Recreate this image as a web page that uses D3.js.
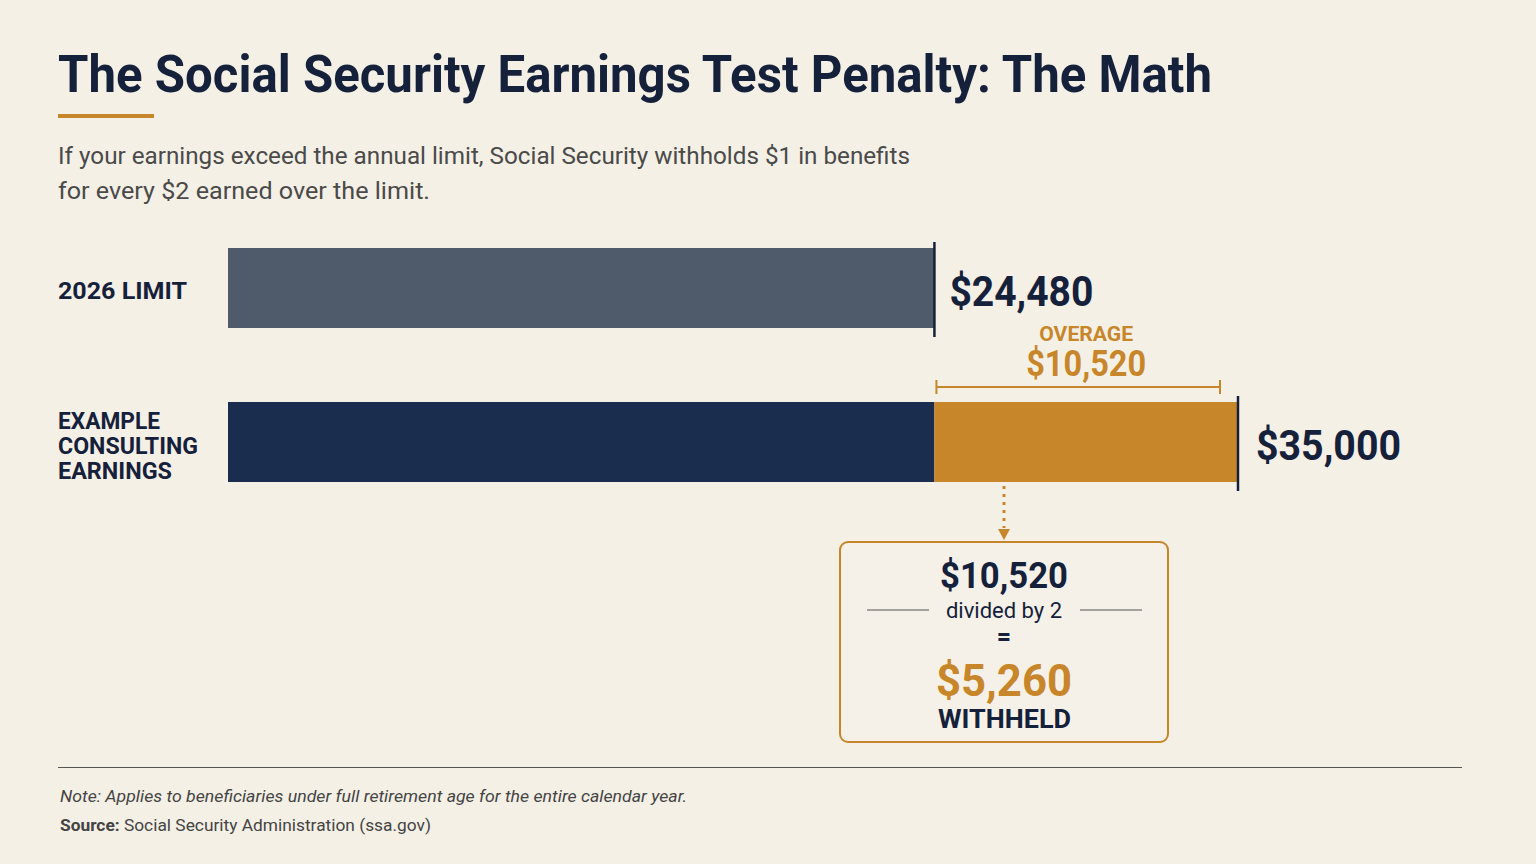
<!DOCTYPE html>
<html>
<head>
<meta charset="utf-8">
<script src="https://cdn.jsdelivr.net/npm/d3@7"></script>
<style>
  html, body { margin: 0; padding: 0; background: #f5f0e6; }
  svg { display: block; font-family: Roboto, "Noto Sans", sans-serif; }
</style>
</head>
<body>
<svg width="1536" height="864"></svg>
<script>
// data
var rows = ["2026 LIMIT", "EXAMPLE CONSULTING EARNINGS"];
var limit = [24480];
var earnings = [35000];
var overage = earnings[0] - limit[0];
var withheld = overage / 2;

var navy = "#15213a", gold = "#c8862a";

var svg = d3.select("svg"),
    width = +svg.attr("width"),
    height = +svg.attr("height");

svg.append("rect").attr("width", width).attr("height", height).attr("fill", "#f5f0e6");

var fmt = d3.format("$,");

// set text to a given width
function fit(sel, w) {
    sel.attr("textLength", w).attr("lengthAdjust", "spacingAndGlyphs");
    return sel;
}

// title
fit(svg.append("text").attr("x", 58).attr("y", 92)
    .attr("font-size", 52).attr("font-weight", 700).attr("fill", navy)
    .text("The Social Security Earnings Test Penalty: The Math"), 1154);

svg.append("rect").attr("x", 58).attr("y", 114).attr("width", 96).attr("height", 4).attr("fill", gold);

var sub = ["If your earnings exceed the annual limit, Social Security withholds $1 in benefits",
           "for every $2 earned over the limit."];
var subW = [852, 372];
svg.selectAll(".sub").data(sub).enter().append("text")
    .attr("x", 58).attr("y", function(d, i) { return 164 + i * 35; })
    .attr("font-size", 23).attr("fill", "#4a4a4a")
    .text(function(d) { return d; })
    .each(function(d, i) { fit(d3.select(this), subW[i]); });

// scales
var x = d3.scaleLinear().domain([0, earnings[0]]).range([228, 1238]);
var bh = 80;
var y0 = 248, y1 = 402;

// row labels
fit(svg.append("text").attr("x", 58).attr("y", y0 + bh / 2 + 11)
    .attr("font-size", 24).attr("font-weight", 700).attr("fill", navy).text(rows[0]), 129);
var lab2 = ["EXAMPLE", "CONSULTING", "EARNINGS"];
var lab2W = [102, 140, 114];
svg.selectAll(".lab2").data(lab2).enter().append("text")
    .attr("x", 58).attr("y", function(d, i) { return y1 + 27 + i * 25; })
    .attr("font-size", 23).attr("font-weight", 700).attr("fill", navy)
    .text(function(d) { return d; })
    .each(function(d, i) { fit(d3.select(this), lab2W[i]); });

// limit bar
svg.append("rect").attr("x", x(0)).attr("y", y0).attr("width", x(limit[0]) - x(0)).attr("height", bh)
    .attr("fill", "#4f5b6b");
svg.append("line").attr("x1", x(limit[0])).attr("x2", x(limit[0])).attr("y1", y0 - 6).attr("y2", y0 + bh + 9)
    .attr("stroke", navy).attr("stroke-width", 2.5);
fit(svg.append("text").attr("x", x(limit[0]) + 15).attr("y", y0 + 58)
    .attr("font-size", 42).attr("font-weight", 700).attr("fill", navy).text(fmt(limit[0])), 144);

// earnings bar: part under limit + overage
svg.append("rect").attr("x", x(0)).attr("y", y1).attr("width", x(limit[0]) - x(0)).attr("height", bh)
    .attr("fill", "#1b2d4e");
svg.append("rect").attr("x", x(limit[0])).attr("y", y1).attr("width", x(earnings[0]) - x(limit[0])).attr("height", bh)
    .attr("fill", gold);
svg.append("line").attr("x1", x(earnings[0])).attr("x2", x(earnings[0])).attr("y1", y1 - 6).attr("y2", y1 + bh + 9)
    .attr("stroke", navy).attr("stroke-width", 2.5);
fit(svg.append("text").attr("x", x(earnings[0]) + 18).attr("y", y1 + 58)
    .attr("font-size", 42).attr("font-weight", 700).attr("fill", navy).text(fmt(earnings[0])), 145);

// overage bracket
var bx0 = x(limit[0]) + 2, bx1 = x(earnings[0]) - 18, by = 387;
var bmid = (x(limit[0]) + x(earnings[0])) / 2;
svg.append("path")
    .attr("d", "M" + bx0 + "," + (by - 7) + "V" + (by + 7) + "M" + bx0 + "," + by + "H" + bx1 + "M" + bx1 + "," + (by - 7) + "V" + (by + 7))
    .attr("fill", "none").attr("stroke", gold).attr("stroke-width", 2);
fit(svg.append("text").attr("x", bmid - 47).attr("y", 341)
    .attr("font-size", 21).attr("font-weight", 700).attr("fill", gold).text("OVERAGE"), 94);
fit(svg.append("text").attr("x", bmid - 60).attr("y", 376)
    .attr("font-size", 36).attr("font-weight", 700).attr("fill", gold).text(fmt(overage)), 120);

// dotted arrow to box
var ax = 1004;
svg.append("line").attr("x1", ax).attr("x2", ax).attr("y1", y1 + bh + 4).attr("y2", 528)
    .attr("stroke", gold).attr("stroke-width", 3).attr("stroke-dasharray", "3,5");
svg.append("path").attr("d", "M" + (ax - 6) + ",529L" + (ax + 6) + ",529L" + ax + ",540Z").attr("fill", gold);

// math box
svg.append("rect").attr("x", 840).attr("y", 542).attr("width", 328).attr("height", 200).attr("rx", 8)
    .attr("fill", "#f6f1e8").attr("stroke", gold).attr("stroke-width", 2);
fit(svg.append("text").attr("x", ax - 64).attr("y", 588)
    .attr("font-size", 37).attr("font-weight", 700).attr("fill", navy).text(fmt(overage)), 128);
svg.append("text").attr("x", ax).attr("y", 618).attr("text-anchor", "middle")
    .attr("font-size", 22).attr("fill", navy).text("divided by 2");
svg.append("line").attr("x1", 867).attr("x2", 929).attr("y1", 610).attr("y2", 610).attr("stroke", "#555").attr("stroke-width", 1);
svg.append("line").attr("x1", 1080).attr("x2", 1142).attr("y1", 610).attr("y2", 610).attr("stroke", "#555").attr("stroke-width", 1);
svg.append("text").attr("x", ax).attr("y", 645).attr("text-anchor", "middle")
    .attr("font-size", 25).attr("font-weight", 700).attr("fill", navy).text("=");
fit(svg.append("text").attr("x", ax - 68).attr("y", 696)
    .attr("font-size", 44).attr("font-weight", 700).attr("fill", gold).text(fmt(withheld)), 136);
fit(svg.append("text").attr("x", ax - 66).attr("y", 728)
    .attr("font-size", 26).attr("font-weight", 700).attr("fill", navy).text("WITHHELD"), 133);

// footer
svg.append("line").attr("x1", 58).attr("x2", 1462).attr("y1", 767.5).attr("y2", 767.5).attr("stroke", "#555").attr("stroke-width", 1.2);
fit(svg.append("text").attr("x", 60).attr("y", 802).attr("font-size", 17).attr("font-style", "italic")
    .attr("fill", "#444").text("Note: Applies to beneficiaries under full retirement age for the entire calendar year."), 627);
var src = svg.append("text").attr("x", 60).attr("y", 831).attr("font-size", 17).attr("fill", "#444");
src.append("tspan").attr("font-weight", 700).text("Source:");
src.append("tspan").text(" Social Security Administration (ssa.gov)");
fit(src, 371);
</script>
</body>
</html>
